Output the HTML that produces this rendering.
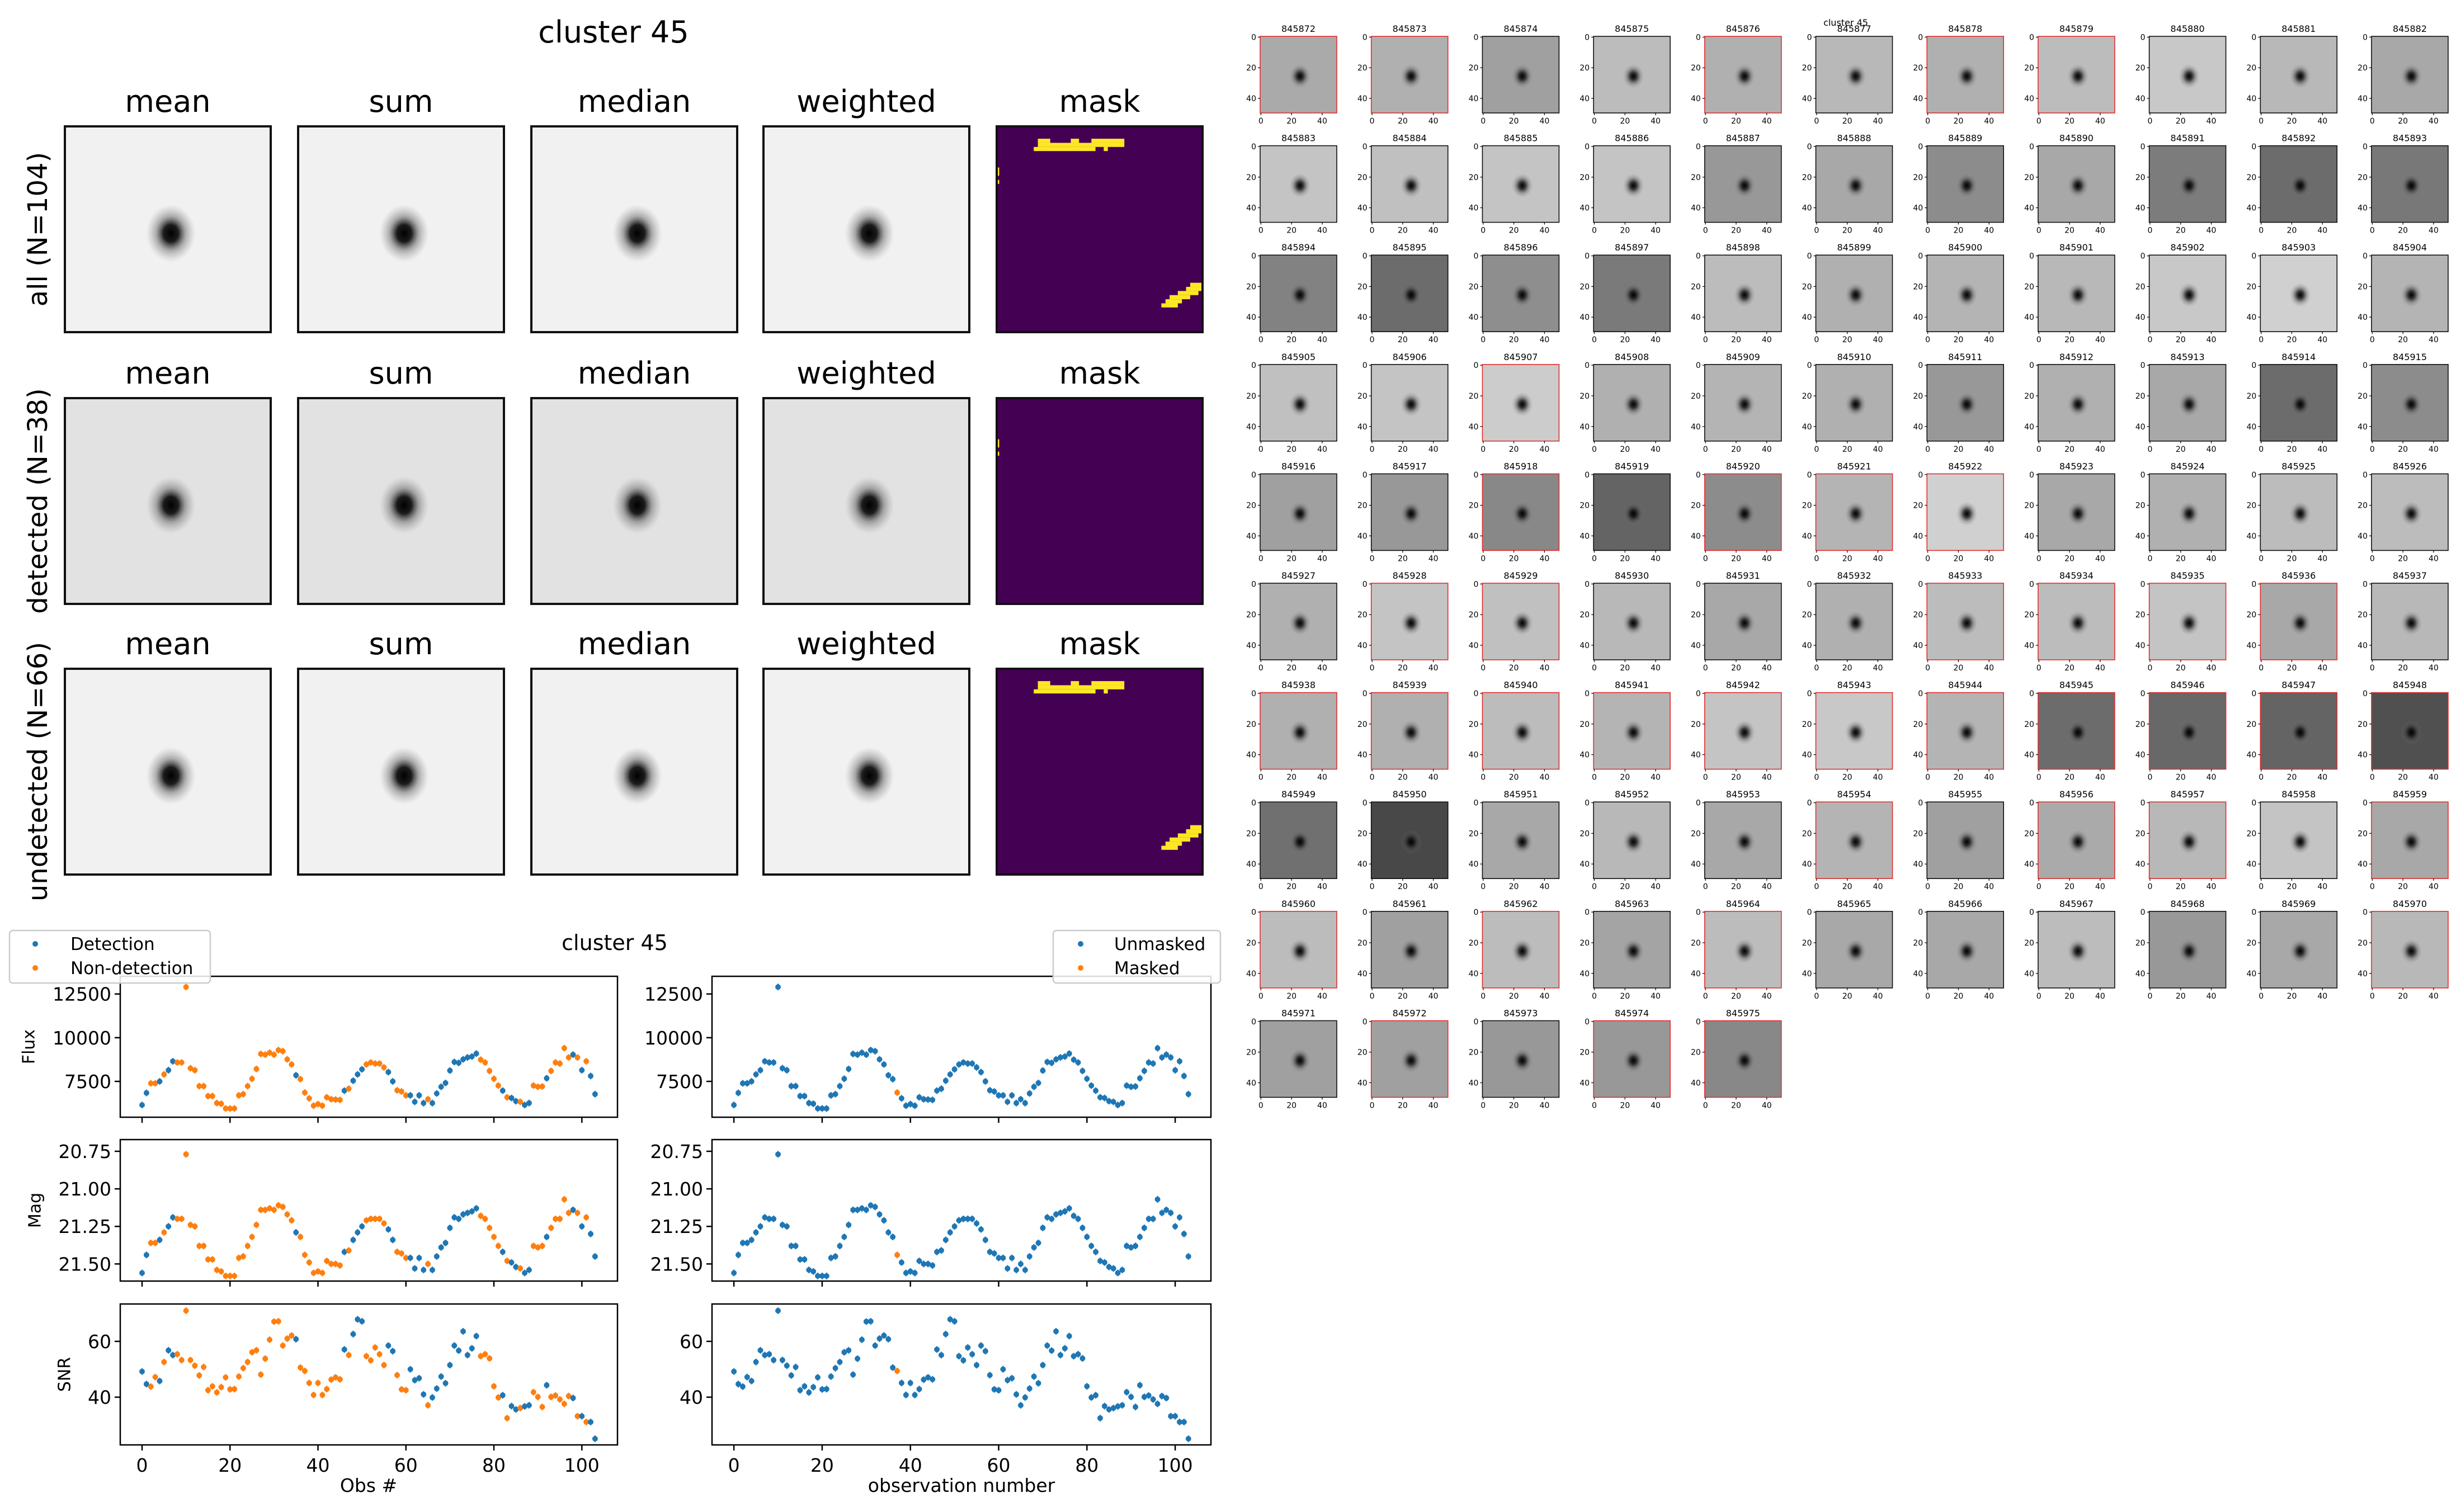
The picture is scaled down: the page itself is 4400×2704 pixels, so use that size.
<!DOCTYPE html>
<html><head><meta charset="utf-8"><style>
html,body{margin:0;padding:0;background:#fff;}
svg{display:block;}
text{font-family:"DejaVu Sans","Liberation Sans",sans-serif;fill:#000;}
</style></head><body>
<svg id="root" width="4400" height="2704" viewBox="0 0 4400 2704" xmlns="http://www.w3.org/2000/svg">
<defs>
<radialGradient id="star" cx="0.5" cy="0.5" r="0.5">
<stop offset="0" stop-color="#000" stop-opacity="1"/>
<stop offset="0.3" stop-color="#111" stop-opacity="0.95"/>
<stop offset="0.6" stop-color="#666" stop-opacity="0.5"/>
<stop offset="1" stop-color="#999" stop-opacity="0"/>
</radialGradient>
<radialGradient id="star2" cx="0.5" cy="0.5" r="0.5">
<stop offset="0" stop-color="#000" stop-opacity="1"/>
<stop offset="0.3" stop-color="#111" stop-opacity="0.8"/>
<stop offset="0.65" stop-color="#444" stop-opacity="0.3"/>
<stop offset="1" stop-color="#888" stop-opacity="0"/>
</radialGradient>
</defs>
<g id="stamps"></g>
<g id="lc"></g>
<g id="thumbs"></g>
</svg>
<script>
// ---------- light curve data ----------
const obsIndex = Array.from({length:104},(_,i)=>i);
const fluxValues = [6150,6840,7390,7390,7500,7900,8140,8650,8580,8580,12900,8250,8140,7230,7230,6660,6660,6260,6220,5950,5950,5950,6700,6770,7230,7650,8210,9070,9030,9140,9030,9290,9230,8760,8470,7850,7630,6860,6530,6110,6200,6110,6590,6480,6460,6440,6970,7080,7540,7900,8190,8470,8580,8520,8520,8300,8030,7500,6990,6920,6700,6700,6330,6700,6260,6480,6260,6810,7190,7410,8120,8610,8560,8760,8870,8920,9090,8740,8580,8100,7650,7260,6970,6590,6550,6370,6330,6150,6260,7260,7190,7210,7680,8100,8580,8520,9400,8870,9030,8870,8140,8650,7810,6770];
const magValues = [21.56,21.44,21.36,21.36,21.34,21.29,21.25,21.19,21.20,21.20,20.77,21.24,21.25,21.38,21.38,21.47,21.47,21.54,21.55,21.58,21.58,21.58,21.46,21.45,21.38,21.32,21.24,21.14,21.14,21.13,21.14,21.11,21.12,21.17,21.21,21.29,21.32,21.44,21.49,21.56,21.55,21.56,21.48,21.50,21.50,21.51,21.42,21.41,21.34,21.29,21.25,21.21,21.20,21.20,21.20,21.23,21.27,21.34,21.42,21.43,21.46,21.46,21.53,21.46,21.54,21.50,21.54,21.45,21.39,21.36,21.26,21.19,21.20,21.17,21.16,21.15,21.13,21.18,21.20,21.26,21.32,21.38,21.42,21.48,21.49,21.52,21.53,21.56,21.54,21.38,21.39,21.38,21.32,21.26,21.20,21.20,21.07,21.16,21.14,21.16,21.25,21.19,21.30,21.45];
const snrValues = [49.2,44.7,43.8,47.2,45.8,52.6,56.8,55.1,55.4,53.3,71,53.3,51.3,47.8,50.8,42.5,43.9,41.7,43.6,47.1,42.8,42.9,47.4,50.4,52.6,56.1,56.8,48.1,53.8,60.6,67.1,67.2,58.5,61,62.1,60.8,50.6,49.4,45.1,40.8,45.1,40.8,42.9,46.3,47.1,46.4,57.1,55.1,62.6,67.9,67.2,54.7,53.2,57.8,55.4,51.5,58.5,56.5,47.9,42.8,42.5,50,46.1,46.8,41,37.1,39.9,43.1,47.4,45,51.5,58.5,56.7,63.6,55.1,57.5,61.9,54.7,55.4,53.9,43.9,39.9,40.7,32.5,36.8,35.6,36.1,36.7,37.1,41.8,40.1,36.5,44.3,40.1,40.6,39.2,37.6,40.4,39.7,33.2,33.2,31.1,31.1,25.1];
const detectedIdx = [0,1,4,6,7,35,46,48,49,50,56,57,61,62,63,64,66,67,68,69,70,71,72,73,74,75,76,82,84,85,87,88,92,98,100,102,103];
const maskedIdx = [37];
const xTicks = [0,20,40,60,80,100];
const fluxTicks = [7500,10000,12500];
const magTicks = [20.75,21.00,21.25,21.50];
const magTickLabels = ["20.75","21.00","21.25","21.50"];
const snrTicks = [40,60];

// ---------- thumbnails data ----------
const thumbIds = Array.from({length:104},(_,i)=>String(845872+i));
const thumbGray = [170,176,160,188,176,184,176,188,200,184,168,
196,192,196,196,152,168,140,168,124,108,120,
130,108,142,122,188,176,180,184,200,208,180,
192,196,204,176,180,176,152,176,168,108,140,
160,152,136,100,140,180,208,168,176,188,188,
176,196,192,184,168,176,188,188,196,168,184,
176,176,188,180,196,200,180,108,104,100,80,
112,72,168,184,168,180,160,170,184,196,168,
188,160,188,164,188,168,168,188,152,168,184,
160,160,152,152,136];
const redIds = ["845872","845873","845876","845878","845879","845907","845918","845920","845921","845922","845928","845929","845933","845934","845935","845936","845938","845939","845940","845941","845942","845943","845944","845945","845946","845947","845948","845954","845956","845957","845959","845960","845962","845964","845970","845972","845974","845975"];

const NS="http://www.w3.org/2000/svg";
function mk(parent,tag,attrs,txt){const e=document.createElementNS(NS,tag);for(const k in attrs)e.setAttribute(k,attrs[k]);if(txt!==undefined)e.textContent=txt;parent.appendChild(e);return e;}

// ---------- stack panels ----------
const stamps=document.getElementById('stamps');
const colX=[116,533,950,1365,1782], rowY=[226,712,1196], PW=368;
const colTitles=["mean","sum","median","weighted","mask"];
const rowLabels=["all (N=104)","detected (N=38)","undetected (N=66)"];
const rowBg=["#f1f1f1","#e2e2e2","#f1f1f1"];
let t=mk(stamps,'text',{x:1097,y:76,'font-size':54,'text-anchor':'middle'},"cluster 45");


const maskTop=[[10,3,3,1],[18,3,2,1],[23,3,8,1],[10,4,21,1],[9,5,15,1],[26,5,1,1]];
const maskLeft=[[0,10,0.6,2],[0,13,0.6,1]];
const maskBR=[[47,38,3,1],[46,39,4,1],[44,40,5,1],[42,41,5,1],[41,42,4,1],[40,43,4,1]];
rowY.forEach((y,r)=>{
  const lab=mk(stamps,'text',{transform:`translate(68,${y+PW/2}) rotate(-90)`,'font-size':48,'text-anchor':'middle','dominant-baseline':'central'},rowLabels[r]);
  
  
  colX.forEach((x,c)=>{
    const ti=mk(stamps,'text',{x:x+PW/2,y:y-26,'font-size':54,'text-anchor':'middle'},colTitles[c]);
    
    
    const g=mk(stamps,'g',{});
    
    
    if(c<4){
      mk(g,'rect',{x:x,y:y,width:PW,height:PW,fill:rowBg[r]});
      mk(g,'ellipse',{cx:x+PW*0.515,cy:y+PW*0.52,rx:PW*0.12,ry:PW*0.14,fill:'url(#star)'});
    } else {
      mk(g,'rect',{x:x,y:y,width:PW,height:PW,fill:'#440154'});
      const p=PW/50;
      let blobs=[];
      if(r===0) blobs=maskTop.concat(maskLeft,maskBR);
      if(r===1) blobs=maskLeft;
      if(r===2) blobs=maskTop.concat(maskBR);
      blobs.forEach(b=>mk(g,'rect',{x:x+b[0]*p,y:y+b[1]*p,width:b[2]*p,height:b[3]*p,fill:'#fde725'}));
    }
    mk(g,'rect',{x:x,y:y,width:PW,height:PW,fill:'none',stroke:'#111','stroke-width':4});
  });
});

// ---------- light curves ----------
const lc=document.getElementById('lc');
const X0=-4.96,X1=108.1;
const panels=[
 {y0:1746,y1:1998,min:13511,max:5450,vals:fluxValues,ticks:fluxTicks,labels:fluxTicks.map(String),name:'flux',ylab:'Flux',ylx:52},
 {y0:2038,y1:2291,min:20.672,max:21.614,vals:magValues,ticks:magTicks,labels:magTickLabels,name:'mag',ylab:'Mag',ylx:63},
 {y0:2332,y1:2584,min:73.4,max:22.9,vals:snrValues,ticks:snrTicks,labels:snrTicks.map(String),name:'snr',ylab:'SNR',ylx:116}
];
const sides=[{xa:215,xb:1104,hi:detectedIdx,hiIsBlue:true,key:'left'},{xa:1273,xb:2165,hi:maskedIdx,hiIsBlue:false,key:'right'}];
const BLUE='#1f77b4',ORANGE='#ff7f0e';
sides.forEach((s,si)=>{
  const xs=v=>s.xa+(v-X0)/(X1-X0)*(s.xb-s.xa);
  panels.forEach((p,pi)=>{
    const ys=v=>p.y0+(v-p.min)/(p.max-p.min)*(p.y1-p.y0);
    const g=mk(lc,'g',{});
    
    
    p.ticks.forEach((tv,k)=>{
      const yy=ys(tv);
      mk(g,'line',{x1:s.xa-10,x2:s.xa,y1:yy,y2:yy,stroke:'#000','stroke-width':2.5});
      const tl=mk(g,'text',{x:s.xa-16,y:yy+12,'font-size':33,'text-anchor':'end'},p.labels[k]);
      
      
    });
    xTicks.forEach(tv=>{
      const xx=xs(tv);
      mk(g,'line',{x1:xx,x2:xx,y1:p.y1,y2:p.y1+10,stroke:'#000','stroke-width':2.5});
      if(pi===2){
        const tl=mk(g,'text',{x:xx,y:p.y1+48,'font-size':33,'text-anchor':'middle'},String(tv));
        
        
      }
    });
    if(si===0){
      const yl=mk(g,'text',{transform:`translate(${p.ylx},${(p.y0+p.y1)/2}) rotate(-90)`,'font-size':30,'text-anchor':'middle','dominant-baseline':'central'},p.ylab);
      
      
    }
    obsIndex.forEach(i=>{
      const inSet=s.hi.indexOf(i)>=0;
      const blue=s.hiIsBlue?inSet:!inSet;
      const cx=xs(i),cy=ys(p.vals[i]);
      const c=mk(g,'circle',{cx:cx,cy:cy,r:5,fill:blue?BLUE:ORANGE});
      
      
      mk(g,'line',{x1:cx,x2:cx,y1:cy-6,y2:cy+6,stroke:blue?BLUE:ORANGE,'stroke-width':2});
    });
    mk(g,'rect',{x:s.xa,y:p.y0,width:s.xb-s.xa,height:p.y1-p.y0,fill:'none',stroke:'#000','stroke-width':2.5});
  });
});
t=mk(lc,'text',{x:1099,y:1699,'font-size':38,'text-anchor':'middle'},"cluster 45");


t=mk(lc,'text',{x:659,y:2668,'font-size':33,'text-anchor':'middle'},"Obs #");


t=mk(lc,'text',{x:1719,y:2668,'font-size':33,'text-anchor':'middle'},"observation number");


// legends
[{x:17,w:359,mx:63,tx:126,labels:["Detection","Non-detection"],n:'legend-left'},{x:1883,w:299,mx:1932,tx:1992,labels:["Unmasked","Masked"],n:'legend-right'}].forEach(L=>{
  const g=mk(lc,'g',{});
  
  
  mk(g,'rect',{x:L.x,y:1664,width:L.w,height:94,rx:6,fill:'#fff','fill-opacity':0.85,stroke:'#ccc','stroke-width':2.5});
  [1688,1731].forEach((yy,k)=>{
    const e=mk(g,'g',{});
    
    
    mk(e,'circle',{cx:L.mx,cy:yy,r:5,fill:k===0?BLUE:ORANGE});
    mk(e,'text',{x:L.tx,y:yy+11,'font-size':31},L.labels[k]);
  });
});

// ---------- thumbnails ----------
const th=document.getElementById('thumbs');
const TX=2253,TY=65,TPX=198.7,TPY=195.6,TS=137;
thumbIds.forEach((id,k)=>{
  const c=k%11,r=Math.floor(k/11);
  const x=TX+c*TPX,y=TY+r*TPY;
  const g=mk(th,'g',{});
  
  
  const gv=thumbGray[k];
  mk(g,'rect',{x:x,y:y,width:TS,height:TS,fill:`rgb(${gv},${gv},${gv})`});
  mk(g,'ellipse',{cx:x+TS*0.52,cy:y+TS*0.52,rx:TS*0.14,ry:TS*0.16,fill:'url(#star2)'});
  const red=redIds.indexOf(id)>=0;
  mk(g,'rect',{x:x,y:y,width:TS,height:TS,fill:'none',stroke:red?'#e03030':'#111','stroke-width':1.6});
  const tt=mk(g,'text',{x:x+TS/2,y:y-8,'font-size':16,'text-anchor':'middle'},id);
  
  
  [0,20,40].forEach(v=>{
    const p=(v+0.5)/50*TS;
    mk(g,'line',{x1:x-4,x2:x,y1:y+p,y2:y+p,stroke:'#000','stroke-width':1.2});
    mk(g,'text',{x:x-7,y:y+p+5,'font-size':14,'text-anchor':'end'},String(v));
    mk(g,'line',{x1:x+p,x2:x+p,y1:y+TS,y2:y+TS+4,stroke:'#000','stroke-width':1.2});
    mk(g,'text',{x:x+p,y:y+TS+19,'font-size':14,'text-anchor':'middle'},String(v));
  });
});
t=mk(th,'text',{x:3300,y:46,'font-size':16,'text-anchor':'middle'},"cluster 45");


</script>
</body></html>
